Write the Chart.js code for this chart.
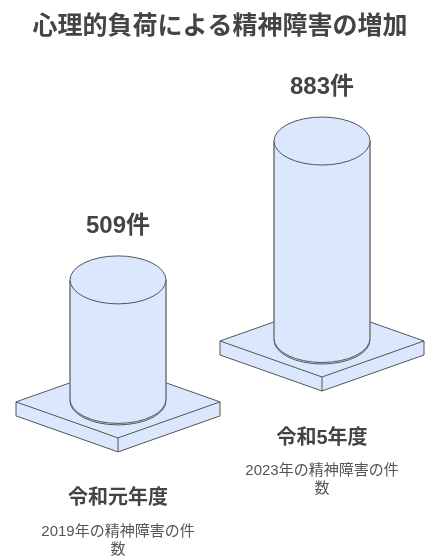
<!DOCTYPE html>
<html lang="ja">
<head>
<meta charset="utf-8">
<style>
  html, body { margin: 0; padding: 0; background: #fff; }
  #wrap { width: 442px; height: 559px; }
</style>
<script src="https://cdn.jsdelivr.net/npm/chart.js@4"></script>
</head>
<body>
<div id="wrap"><canvas id="chart"></canvas></div>
<script>
const chartTitle = '心理的負荷による精神障害の増加';
const categories = ['令和元年度', '令和5年度'];
const values = [509, 883];
const valueLabels = ['509件', '883件'];
const noteLines = [
    ['2019年の精神障害の件', '数'],
    ['2023年の精神障害の件', '数']
];

const FILL = '#dae7fd';
const LINE = '#555';
const FONT = '"Liberation Sans", "Noto Sans CJK JP", sans-serif';
const RX_RATIO = 0.25;   // ellipse height / bar width
const axisIds = ['yLeft', 'yRight'];

// each bar gets a plate below it, then caps and labels on top
const cylinderPlugin = {
    id: 'cylinders',
    beforeDatasetsDraw(chart) {
        const ctx = chart.ctx;
        categories.forEach((_, i) => {
            const bar = chart.getDatasetMeta(i).data[i];
            const hw = chart.scales.x.width / 4;
            const hh = 36;
            const t = 14;
            const x = bar.x, y = bar.base + 1;
            ctx.save();
            ctx.fillStyle = FILL;
            ctx.strokeStyle = LINE;
            ctx.lineWidth = 1;
            ctx.lineJoin = 'round';
            ctx.beginPath();
            ctx.moveTo(x - hw, y);
            ctx.lineTo(x, y - hh);
            ctx.lineTo(x + hw, y);
            ctx.lineTo(x + hw, y + t);
            ctx.lineTo(x, y + hh + t);
            ctx.lineTo(x - hw, y + t);
            ctx.closePath();
            ctx.fill();
            ctx.stroke();
            ctx.beginPath();
            ctx.moveTo(x - hw, y);
            ctx.lineTo(x, y + hh);
            ctx.lineTo(x + hw, y);
            ctx.moveTo(x, y + hh);
            ctx.lineTo(x, y + hh + t);
            ctx.stroke();
            // bottom ellipse of the cylinder
            const rx = bar.width / 2, ry = bar.width * RX_RATIO;
            ctx.fillStyle = FILL;
            ctx.beginPath();
            ctx.ellipse(x, bar.base, rx, ry, 0, 0, Math.PI * 2);
            ctx.fill();
            ctx.stroke();
            ctx.restore();
        });
    },
    afterDatasetsDraw(chart) {
        const ctx = chart.ctx;
        categories.forEach((cat, i) => {
            const bar = chart.getDatasetMeta(i).data[i];
            const rx = bar.width / 2, ry = bar.width * RX_RATIO;
            const x = bar.x, top = bar.y, base = bar.base;
            ctx.save();
            ctx.fillStyle = FILL;
            ctx.strokeStyle = LINE;
            ctx.lineWidth = 1;
            // rounded bottom of the body
            ctx.beginPath();
            ctx.ellipse(x, base - 1.5, rx, ry, 0, 0, Math.PI);
            ctx.fill();
            ctx.stroke();
            // sides
            ctx.strokeStyle = '#777';
            ctx.lineWidth = 1.5;
            ctx.beginPath();
            ctx.moveTo(x - rx, top);
            ctx.lineTo(x - rx, base - 1.5);
            ctx.moveTo(x + rx, top);
            ctx.lineTo(x + rx, base - 1.5);
            ctx.stroke();
            // top cap
            ctx.strokeStyle = LINE;
            ctx.lineWidth = 1;
            ctx.beginPath();
            ctx.ellipse(x, top, rx, ry, 0, 0, Math.PI * 2);
            ctx.fill();
            ctx.stroke();

            // labels
            ctx.textAlign = 'center';
            ctx.textBaseline = 'middle';
            ctx.fillStyle = '#444';
            ctx.font = `bold 24px ${FONT}`;
            ctx.fillText(valueLabels[i], x, top - 53.5);
            ctx.font = `bold 20px ${FONT}`;
            ctx.fillText(cat, x, base + 98);
            ctx.font = `15px ${FONT}`;
            ctx.fillStyle = '#555';
            noteLines[i].forEach((line, k) => {
                ctx.fillText(line, x, base + 131 + k * 18);
            });
            ctx.restore();
        });
    }
};

new Chart(document.getElementById('chart'), {
    type: 'bar',
    data: {
        labels: categories,
        datasets: categories.map((_, i) => ({
            label: categories[i],
            data: values.map((v, j) => (j === i ? v : null)),
            yAxisID: axisIds[i],
            backgroundColor: FILL,
            borderWidth: 0,
            barThickness: 96,
            grouped: false
        }))
    },
    options: {
        responsive: true,
        maintainAspectRatio: false,
        animation: false,
        layout: { padding: { left: 16, right: 18, top: 0, bottom: 0 } },
        plugins: {
            legend: { display: false },
            tooltip: { enabled: false },
            title: {
                display: true,
                text: chartTitle,
                color: '#444',
                font: { family: FONT, size: 25, weight: 'bold' },
                padding: { top: 12, bottom: 8 }
            }
        },
        scales: {
            x: { display: false },
            yLeft: { display: false, min: -665, max: 1476 },
            yRight: { display: false, min: -972, max: 1287 }
        }
    },
    plugins: [cylinderPlugin]
});
</script>
</body>
</html>
